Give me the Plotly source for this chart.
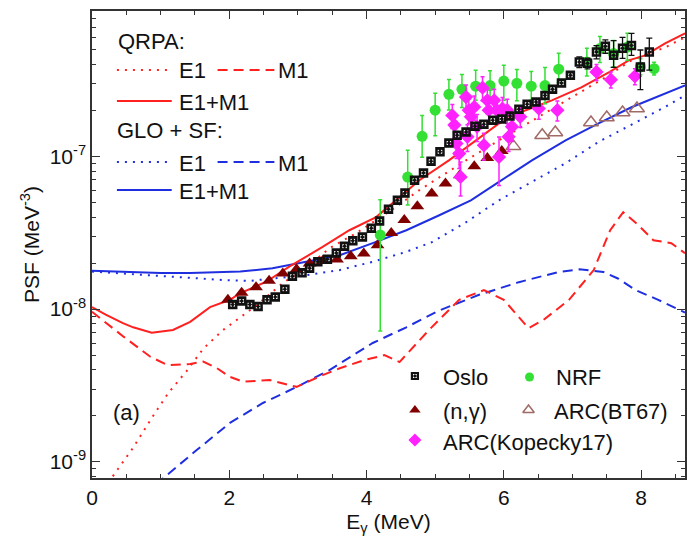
import plotly.graph_objects as go

# ---------------- data ----------------
# QRPA E1+M1 (red solid)
qrpa_tot_e = [0, 0.2, 0.45, 0.6, 0.87, 1.18, 1.43, 1.72, 2.01, 2.16, 2.54, 2.88, 3.36, 3.75, 4.14, 4.43, 4.77, 5.2, 5.54, 5.93, 6.32, 6.7, 7.13, 7.53, 7.82, 8.06, 8.35, 8.64]
qrpa_tot_v = [1.03e-8, 9.2e-9, 8.1e-9, 7.6e-9, 7.0e-9, 7.3e-9, 8.26e-9, 1.03e-8, 1.15e-8, 1.27e-8, 1.51e-8, 1.9e-8, 2.55e-8, 3.28e-8, 4.0e-8, 5.15e-8, 6.97e-8, 9.4e-8, 1.22e-7, 1.64e-7, 2.0e-7, 2.32e-7, 2.82e-7, 3.54e-7, 4.24e-7, 4.57e-7, 5.48e-7, 6.37e-7]
# QRPA E1 (red dotted)
qrpa_e1_e = [0.1, 0.34, 0.6, 0.88, 1.11, 1.39, 1.62, 1.91, 2.05, 2.4, 2.78, 3.13, 3.46, 3.85, 4.14, 4.38, 4.77, 5.1, 5.45, 5.93, 6.51, 6.99, 7.48, 7.86, 8.35, 8.64]
qrpa_e1_v = [6.0e-10, 8.5e-10, 1.24e-9, 1.97e-9, 2.82e-9, 3.99e-9, 5.5e-9, 7.3e-9, 8.1e-9, 1.06e-8, 1.48e-8, 1.88e-8, 2.5e-8, 3.14e-8, 3.82e-8, 4.5e-8, 6.0e-8, 7.5e-8, 9.4e-8, 1.27e-7, 1.8e-7, 2.43e-7, 3.28e-7, 4.24e-7, 5.15e-7, 6.0e-7]
# QRPA M1 (red dashed)
qrpa_m1_e = [0, 0.46, 0.85, 1.1, 1.43, 1.62, 1.82, 2.01, 2.2, 2.59, 2.98, 3.36, 3.61, 3.97, 4.26, 4.48, 4.91, 5.35, 5.71, 6.0, 6.36, 6.58, 6.95, 7.31, 7.55, 7.74, 7.96, 8.18, 8.44, 8.64]
qrpa_m1_v = [9.6e-9, 6.6e-9, 4.88e-9, 4.3e-9, 4.37e-9, 4.53e-9, 4.11e-9, 3.6e-9, 3.35e-9, 3.43e-9, 3.1e-9, 3.7e-9, 4.1e-9, 4.64e-9, 5.0e-9, 4.5e-9, 7.3e-9, 1.15e-8, 1.33e-8, 1.15e-8, 7.5e-9, 8.5e-9, 1.15e-8, 1.8e-8, 3.28e-8, 4.31e-8, 3.54e-8, 2.82e-8, 2.7e-8, 2.32e-8]
# GLO+SF E1+M1 (blue solid)
glo_tot_e = [0, 0.5, 1.0, 1.43, 2.16, 2.63, 3.13, 3.61, 4.09, 4.58, 5.06, 5.52, 5.93, 6.41, 6.9, 7.38, 7.86, 8.35, 8.64]
glo_tot_v = [1.78e-8, 1.75e-8, 1.72e-8, 1.72e-8, 1.76e-8, 1.85e-8, 2.04e-8, 2.25e-8, 2.7e-8, 3.28e-8, 4.11e-8, 5.15e-8, 6.8e-8, 9.4e-8, 1.27e-7, 1.64e-7, 2.09e-7, 2.58e-7, 2.91e-7]
# GLO E1 (blue dotted)
glo_e1_e = [0, 0.5, 1.0, 1.43, 1.91, 2.3, 2.63, 3.13, 3.61, 4.09, 4.58, 4.96, 5.45, 5.93, 6.41, 6.9, 7.38, 7.86, 8.35, 8.64]
glo_e1_v = [1.76e-8, 1.7e-8, 1.65e-8, 1.6e-8, 1.55e-8, 1.53e-8, 1.58e-8, 1.67e-8, 1.8e-8, 2.04e-8, 2.37e-8, 2.75e-8, 3.7e-8, 5.15e-8, 6.8e-8, 9.0e-8, 1.24e-7, 1.6e-7, 2.1e-7, 2.5e-7]
# SF M1 (blue dashed)
glo_m1_e = [0.8, 1.04, 1.53, 2.01, 2.49, 2.98, 3.46, 4.09, 4.58, 5.06, 5.64, 6.22, 6.8, 7.1, 7.45, 7.67, 7.92, 8.25, 8.64]
glo_m1_v = [5.8e-10, 7.85e-10, 1.2e-9, 1.8e-9, 2.43e-9, 3.09e-9, 3.99e-9, 6.0e-9, 7.6e-9, 9.8e-9, 1.24e-8, 1.5e-8, 1.75e-8, 1.82e-8, 1.75e-8, 1.58e-8, 1.33e-8, 1.15e-8, 9.5e-9]

# Oslo
oslo_e = [2.05, 2.18, 2.30, 2.42, 2.55, 2.67, 2.81, 2.92, 3.06, 3.17, 3.29, 3.43, 3.56, 3.68, 3.80, 3.94, 4.07, 4.19, 4.32, 4.45, 4.56, 4.70, 4.83, 4.94, 5.07, 5.20, 5.32, 5.45, 5.58, 5.71, 5.84, 5.97, 6.09, 6.22, 6.34, 6.47, 6.60, 6.71, 6.84, 6.97, 7.10, 7.22, 7.35, 7.48, 7.60, 7.73, 7.86, 7.99, 8.12]
oslo_v = [1.07e-8, 1.13e-8, 1.07e-8, 1.04e-8, 1.15e-8, 1.2e-8, 1.35e-8, 1.64e-8, 1.73e-8, 1.85e-8, 2.04e-8, 2.12e-8, 2.33e-8, 2.58e-8, 2.8e-8, 2.96e-8, 3.38e-8, 3.77e-8, 4.5e-8, 5.15e-8, 5.75e-8, 6.97e-8, 7.78e-8, 9.27e-8, 1.07e-7, 1.22e-7, 1.37e-7, 1.44e-7, 1.57e-7, 1.62e-7, 1.72e-7, 1.75e-7, 1.83e-7, 2.03e-7, 2.19e-7, 2.26e-7, 2.5e-7, 2.74e-7, 3.01e-7, 3.38e-7, 4.13e-7, 4.05e-7, 4.81e-7, 5.24e-7, 4.57e-7, 5.08e-7, 5.31e-7, 3.84e-7, 4.81e-7]
oslo_up = [0.04] * 40 + [0.08, 0.08, 0.1, 0.1, 0.25, 0.18, 0.2, 0.29, 0.23]
oslo_dn = [0.04] * 40 + [0.08, 0.08, 0.1, 0.1, 0.165, 0.14, 0.14, 0.29, 0.24]

# NRF
nrf_e = [4.20, 4.60, 4.81, 5.00, 5.20, 5.39, 5.59, 5.80, 6.00, 6.19, 6.40, 6.60, 6.80, 7.21, 7.40, 7.60, 7.80, 7.99, 8.19]
nrf_v = [3.05e-8, 7.3e-8, 1.35e-7, 2.0e-7, 2.54e-7, 2.74e-7, 2.87e-7, 2.9e-7, 3.1e-7, 3.0e-7, 2.87e-7, 2.9e-7, 3.71e-7, 4.13e-7, 5.06e-7, 4.69e-7, 5.18e-7, 3.84e-7, 3.74e-7]
nrf_up = [0.7, 0.5, 0.37, 0.29, 0.25, 0.25, 0.27, 0.25, 0.27, 0.23, 0.25, 0.31, 0.27, 0.23, 0.2, 0.22, 0.23, 0.13, 0.1]
nrf_dn = [0.764, 0.344, 0.27, 0.32, 0.21, 0.24, 0.19, 0.2, 0.25, 0.23, 0.19, 0.24, 0.18, 0.19, 0.19, 0.18, 0.18, 0.11, 0.09]

# (n,gamma)
ng_e = [1.98, 2.18, 2.39, 2.58, 2.78, 2.98, 3.17, 3.36, 3.57, 3.77, 3.96, 4.16, 4.36, 4.55, 4.74, 4.95, 5.15, 5.36, 5.57, 5.76, 5.97]
ng_v = [1.15e-8, 1.28e-8, 1.39e-8, 1.53e-8, 1.71e-8, 1.82e-8, 1.99e-8, 2.06e-8, 2.11e-8, 2.22e-8, 2.31e-8, 2.62e-8, 3.15e-8, 3.82e-8, 4.71e-8, 5.7e-8, 6.63e-8, 7.51e-8, 8.6e-8, 9.75e-8, 1.08e-7]

# ARC(BT67)
bt_e = [6.14, 6.56, 6.75, 7.27, 7.50, 7.73, 7.94]
bt_v = [1.16e-7, 1.37e-7, 1.43e-7, 1.66e-7, 1.79e-7, 1.93e-7, 2.05e-7]

# ARC(Kopecky17)
kop_e = [5.25, 5.28, 5.31, 5.35, 5.37, 5.45, 5.49, 5.52, 5.47, 5.57, 5.61, 5.69, 5.71, 5.76, 5.78, 5.86, 5.90, 5.93, 5.98, 6.05, 6.07, 6.12, 6.24, 6.51, 6.78, 7.35, 7.56, 7.91]
kop_v = [1.85e-7, 1.6e-7, 1.21e-7, 1.04e-7, 7.32e-8, 2.44e-7, 2.0e-7, 1.81e-7, 1.34e-7, 2.1e-7, 1.56e-7, 2.81e-7, 1.18e-7, 2.32e-7, 2.0e-7, 2.32e-7, 2.0e-7, 9.9e-8, 2.05e-7, 2.0e-7, 1.34e-7, 1.56e-7, 1.81e-7, 2.05e-7, 2.0e-7, 3.56e-7, 3.17e-7, 3.33e-7]
kop_err = [0.18, 0.18, 0.2, 0.2, 0.25, 0.2, 0.18, 0.18, 0.2, 0.18, 0.2, 0.18, 0.2, 0.18, 0.18, 0.18, 0.18, 0.35, 0.18, 0.18, 0.2, 0.2, 0.15, 0.15, 0.15, 0.12, 0.12, 0.12]

# ---------------- styling ----------------
RED = "#ff2020"
BLUE = "#1f2fe0"
GREEN = "#33e033"
DKRED = "#800000"
BROWN = "#a06a66"
MAG = "#ff22ff"
INK = "#111111"
FONT = "Liberation Sans, Arial, sans-serif"
DOT = "2px,6px"
DASH = "10px,6px"

# plot area in pixels (for placing legend keys/text)
L, R, T, B = 92, 687, 11, 478


def px(x):
    return (x - L) / (R - L)


def py(y):
    return (B - y) / (B - T)


fig = go.Figure()


def line(e, v, color, dash):
    fig.add_trace(go.Scatter(x=e, y=v, mode="lines", line=dict(color=color, width=2, dash=dash),
                             showlegend=False, hoverinfo="skip"))


line(glo_m1_e, glo_m1_v, BLUE, DASH)
line(qrpa_m1_e, qrpa_m1_v, RED, DASH)
line(glo_e1_e, glo_e1_v, BLUE, DOT)
line(qrpa_e1_e, qrpa_e1_v, RED, DOT)
line(glo_tot_e, glo_tot_v, BLUE, "solid")
line(qrpa_tot_e, qrpa_tot_v, RED, "solid")


def rel(v, r):
    return [a * b for a, b in zip(v, r)]


fig.add_trace(go.Scatter(x=bt_e, y=bt_v, mode="markers",
                         marker=dict(symbol="triangle-up-open", size=13, color=BROWN, line=dict(width=1.5, color=BROWN)),
                         showlegend=False))
fig.add_trace(go.Scatter(x=ng_e, y=ng_v, mode="markers",
                         marker=dict(symbol="triangle-up", size=12, color=DKRED),
                         showlegend=False))
fig.add_trace(go.Scatter(x=nrf_e, y=nrf_v, mode="markers",
                         marker=dict(symbol="circle", size=11, color=GREEN),
                         error_y=dict(type="data", symmetric=False, array=rel(nrf_v, nrf_up),
                                      arrayminus=rel(nrf_v, nrf_dn), color=GREEN, thickness=1.5, width=2),
                         showlegend=False))
fig.add_trace(go.Scatter(x=kop_e, y=kop_v, mode="markers",
                         marker=dict(symbol="diamond", size=11, color=MAG),
                         error_y=dict(type="data", array=rel(kop_v, kop_err), color=MAG, thickness=1.5, width=2),
                         showlegend=False))
fig.add_trace(go.Scatter(x=oslo_e, y=oslo_v, mode="markers",
                         marker=dict(symbol="square-open-dot", size=7, color=INK, line=dict(width=2.5, color=INK)),
                         error_y=dict(type="data", symmetric=False, array=rel(oslo_v, oslo_up),
                                      arrayminus=rel(oslo_v, oslo_dn), color=INK, thickness=1.3, width=3),
                         showlegend=False))

# ---------------- legend keys (overlay axes in plot-area fraction) ----------------
def key_line(x0, x1, y, color, dash):
    fig.add_trace(go.Scatter(x=[px(x0), px(x1)], y=[py(y), py(y)], mode="lines", xaxis="x2", yaxis="y2",
                             line=dict(color=color, width=2, dash=dash), showlegend=False, hoverinfo="skip"))


def key_marker(x, y, **m):
    fig.add_trace(go.Scatter(x=[px(x)], y=[py(y)], mode="markers", xaxis="x2", yaxis="y2",
                             marker=m, showlegend=False, hoverinfo="skip"))


key_line(117, 168, 70, RED, DOT)
key_line(218, 275, 70, RED, DASH)
key_line(117, 172, 101, RED, "solid")
key_line(117, 168, 162, BLUE, DOT)
key_line(218, 275, 162, BLUE, DASH)
key_line(117, 172, 190, BLUE, "solid")

key_marker(416, 376, symbol="square-open-dot", size=6, color=INK, line=dict(width=2.2, color=INK))
key_marker(531, 377, symbol="circle", size=9, color=GREEN)
key_marker(416, 410, symbol="triangle-up", size=10, color=DKRED)
key_marker(530, 410, symbol="triangle-up-open", size=10, color=BROWN, line=dict(width=1.5, color=BROWN))
key_marker(416, 440, symbol="diamond", size=10, color=MAG)

texts = [
    ("QRPA:", 116, 42),
    ("E1", 177, 71), ("M1", 277, 71), ("E1+M1", 177, 102),
    ("GLO + SF:", 115, 130),
    ("E1", 177, 163), ("M1", 277, 163), ("E1+M1", 177, 191),
    ("Oslo", 442, 377), ("NRF", 556, 377),
    ("(n,γ)", 442, 411), ("ARC(BT67)", 554, 411),
    ("ARC(Kopecky17)", 442, 442),
    ("(a)", 111, 412),
]
for t, x, y in texts:
    fig.add_annotation(text=t, x=px(x), y=py(y), xref="paper", yref="paper", xanchor="left", yanchor="middle",
                       showarrow=False, font=dict(size=22, color=INK, family=FONT))

minor_y = [k * 10.0 ** n for n in (-10, -9, -8, -7, -6) for k in range(2, 10)]

fig.update_layout(
    width=687, height=545,
    margin=dict(l=L, r=687 - R, t=T, b=545 - B),
    paper_bgcolor="white", plot_bgcolor="white",
    font=dict(family=FONT, size=21, color=INK),
    showlegend=False,
    xaxis=dict(range=[0, 8.64], tick0=0, dtick=2, ticks="inside", ticklen=8, tickwidth=1.3, tickcolor="#333333",
               minor=dict(dtick=0.5, ticks="inside", ticklen=4, tickwidth=1.2, tickcolor="#333333", showgrid=False),
               showline=True, linecolor="#333333", linewidth=1.5, mirror="ticks", showgrid=False, zeroline=False,
               tickfont=dict(size=21),
               title=dict(text="E<sub>γ</sub> (MeV)", font=dict(size=21), standoff=6)),
    yaxis=dict(type="log", range=[-9.105, -6.05], tickmode="array", tickvals=[1e-9, 1e-8, 1e-7],
               ticktext=["10<sup>-9</sup>", "10<sup>-8</sup>", "10<sup>-7</sup>"],
               ticks="inside", ticklen=8, tickwidth=1.3, tickcolor="#333333",
               minor=dict(tickmode="array", tickvals=minor_y, ticks="inside", ticklen=4, tickwidth=1.2,
                          tickcolor="#333333", showgrid=False),
               showline=True, linecolor="#333333", linewidth=1.5, mirror="ticks", showgrid=False, zeroline=False,
               tickfont=dict(size=21),
               title=dict(text="PSF (MeV<sup>-3</sup>)", font=dict(size=21), standoff=4)),
    xaxis2=dict(overlaying="x", range=[0, 1], visible=False, anchor="y2"),
    yaxis2=dict(overlaying="y", range=[0, 1], visible=False, anchor="x2"),
)

fig.write_html("out.html")
